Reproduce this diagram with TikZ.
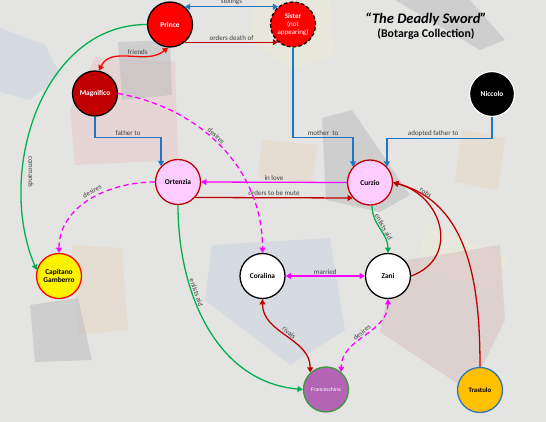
\documentclass[tikz,border=0pt]{standalone}
\usepackage{fontspec}
\setmainfont{Carlito}
\usetikzlibrary{arrows.meta}

\definecolor{linkblue}{HTML}{1F77C4}
\definecolor{linkred}{HTML}{C00000}
\definecolor{brightred}{HTML}{FF0000}
\definecolor{linkpink}{HTML}{FF00FF}
\definecolor{linkgreen}{HTML}{00B050}
\definecolor{ortpink}{HTML}{FFCCFF}
\definecolor{fpurple}{HTML}{B464B4}
\definecolor{fgreen}{HTML}{3A9A3A}
\definecolor{torange}{HTML}{FFC000}
\definecolor{tblue}{HTML}{2E75B6}
\definecolor{lblgray}{HTML}{404040}
\definecolor{cloth}{HTML}{E4E4E2}
\definecolor{rag blue}{HTML}{C8D4E0}
\definecolor{rag gray}{HTML}{B9BABD}
\definecolor{rag pink}{HTML}{E6C9C9}
\definecolor{rag cream}{HTML}{ECEAD6}
\definecolor{rag beige}{HTML}{E6D5C3}
\definecolor{rag mauve}{HTML}{D8BFC0}

\tikzset{
  person/.style={circle,draw=black,line width=1.1pt,minimum size=1.35cm,inner sep=0pt,align=center,font=\fontsize{6.3}{7.5}\selectfont\bfseries},
  lbl/.style={font=\fontsize{6}{7}\selectfont,text=lblgray,inner sep=1pt},
  link/.style={line width=1.1pt,-{Triangle[length=4.5pt,width=5pt]}},
  twoway/.style={line width=1.1pt,{Triangle[length=4.5pt,width=5pt]}-{Triangle[length=4.5pt,width=5pt]}},
  wish/.style={linkpink,dash pattern=on 4.5pt off 3pt},
  rag/.style={fill opacity=0.5}
}

\begin{document}
\begin{tikzpicture}[x=0.03cm,y=0.03cm]
\useasboundingbox (0,0) rectangle (546,-422);
\fill[cloth] (0,0) rectangle (546,-422);
\fill[rag,rag blue] (0,-28) -- (45,-45) -- (60,-75) -- (30,-100) -- (0,-92) -- cycle;
\fill[rag,rag pink] (95,-57) -- (175,-62) -- (178,-160) -- (75,-165) -- (70,-110) -- cycle;
\fill[rag,rag gray] (118,-42) -- (170,-40) -- (172,-95) -- (122,-100) -- cycle;
\fill[rag,rag cream] (255,0) -- (330,0) -- (335,-55) -- (290,-70) -- (250,-40) -- cycle;
\fill[rag,rag gray] (395,0) -- (470,0) -- (505,-40) -- (480,-50) -- cycle;
\fill[rag,rag beige] (262,-140) -- (318,-145) -- (312,-182) -- (258,-178) -- cycle;
\fill[rag,rag gray] (322,-118) -- (352,-110) -- (410,-195) -- (380,-212) -- (326,-200) -- cycle;
\fill[rag,rag beige] (462,-130) -- (505,-138) -- (498,-190) -- (455,-182) -- cycle;
\fill[rag,rag cream] (425,-222) -- (508,-258) -- (492,-292) -- (418,-268) -- cycle;
\fill[rag,rag mauve] (395,-262) -- (500,-245) -- (505,-320) -- (470,-392) -- (380,-332) -- cycle;
\fill[rag,rag blue] (212,-245) -- (330,-238) -- (345,-330) -- (290,-365) -- (205,-300) -- cycle;
\fill[rag,rag beige] (72,-245) -- (122,-248) -- (128,-330) -- (78,-335) -- cycle;
\fill[rag,rag gray] (30,-305) -- (78,-298) -- (92,-360) -- (35,-362) -- cycle;

\node[font=\fontsize{12.4}{14}\selectfont\bfseries\itshape] (title) at (426,-19) {``The Deadly Sword''};
\node[font=\fontsize{10.1}{12}\selectfont\bfseries] (subtitle) at (426,-34) {(Botarga Collection)};

\node[person,fill=brightred,text=white] (prince) at (170,-24.5) {Prince};
\node[person,fill=brightred,text=white,dash pattern=on 3pt off 2pt,font=\fontsize{6}{7}\selectfont] (sister) at (293,-24.5) {\textbf{Sister}\\(not\\appearing)};
\node[person,fill=linkred,text=white] (magnifico) at (95,-93.5) {Magnifico};
\node[person,fill=black,draw=white,text=white] (niccolo) at (492,-94) {Niccolo};
\node[person,fill=ortpink,draw=linkred] (ortenzia) at (178,-182) {Ortenzia};
\node[person,fill=ortpink,draw=linkred] (curzio) at (370,-182.5) {Curzio};
\node[person,fill=yellow,draw=brightred] (capitano) at (59,-276) {Capitano\\Gamberro};
\node[person,fill=white] (coralina) at (262.5,-276) {Coralina};
\node[person,fill=white] (zani) at (388,-276) {Zani};
\node[person,fill=fpurple,draw=fgreen,text=white,font=\fontsize{4.8}{6}\selectfont] (franceschina) at (326,-389.5) {Franceschina};
\node[person,fill=torange,draw=tblue,font=\fontsize{5.8}{7}\selectfont\bfseries] (trastulo) at (480,-390) {Trastulo};

\draw[twoway,linkblue] (prince.50) -- node[lbl,above]{siblings} (sister.130);
\draw[link,linkred] (prince.-50) -- node[lbl,above]{orders death of} (sister.-130);
\draw[twoway,brightred] (magnifico.80) to[out=65,in=-140] node[lbl,above,pos=0.6]{friends} (prince.-95);
\draw[link,linkgreen] (prince.west) to[out=180,in=113] (capitano.165);
\node[lbl,rotate=-90] (commandslbl) at (31,-172) {commands};
\draw[link,linkblue] (magnifico.south) -- ++(0,-21) -| node[lbl,above,pos=0.25]{father to} (ortenzia.137);
\draw[link,linkblue] (sister.south) -- ++(0,-90) -| node[lbl,above,pos=0.25]{mother\ \ to} (curzio.137);
\draw[link,linkblue] (niccolo.south) -- ++(0,-21) -| node[lbl,above,pos=0.28]{adopted father to} (curzio.43);
\draw[link,linkpink] (curzio.west) -- node[lbl,above]{in love} (ortenzia.east);
\draw[link,linkred] (ortenzia.-42) -- node[lbl,above]{orders to be mute} (curzio.-138);
\draw[link,wish] (magnifico.east) to[out=-10,in=90] node[lbl,sloped,above,pos=0.45]{desires} (coralina.north);
\draw[link,wish] (ortenzia.west) to[out=180,in=90] node[lbl,sloped,above=1.5pt,pos=0.45]{desires} (capitano.north);
\draw[link,linkgreen] (ortenzia.south) to[out=-90,in=175] node[lbl,sloped,above,pos=0.35]{enlists aid} (franceschina.west);
\draw[link,linkgreen] (curzio.-85) to[out=-90,in=90] node[lbl,sloped,above]{enlists aid} (zani.north);
\draw[twoway,linkpink] (coralina.east) -- node[lbl,above]{married} (zani.west);
\draw[twoway,linkred] (coralina.south) to[out=-90,in=90] node[lbl,sloped,above]{rivals} (franceschina.133);
\draw[twoway,wish] (zani.south) to[out=-90,in=90] node[lbl,sloped,above]{desires} (franceschina.49);
\draw[link,linkred] (trastulo.north) to[out=90,in=-15] node[lbl,sloped,above,pos=0.85]{robs} (curzio.east);
\draw[link,linkred] (zani.east) to[out=20,in=-15,looseness=1.4] (curzio.east);
\end{tikzpicture}
\end{document}
